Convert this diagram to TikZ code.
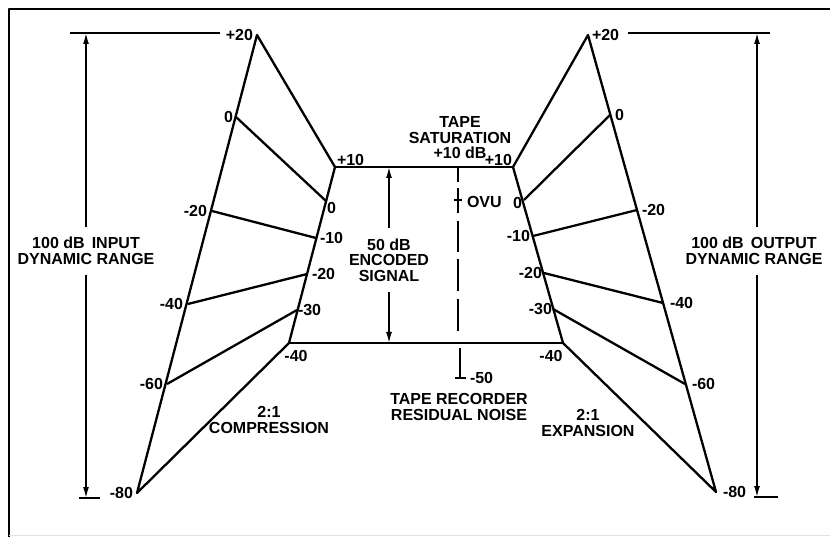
\documentclass[tikz,border=0pt]{standalone}
\usepackage{fontspec}
\setmainfont{Liberation Sans}
\usetikzlibrary{positioning, arrows.meta}

\begin{document}
\begin{tikzpicture}[x=1pt,y=-1pt,line width=1.9pt,line join=round,
    lbl/.style={font=\bfseries\fontsize{16}{15.5}\selectfont, inner sep=1pt, outer sep=0pt},
    txt/.style={lbl, align=center, inner xsep=0pt},
    fan/.style={line width=2.3pt},
    band/.style={line width=2.9pt},
    rangeline/.style={line width=1.6pt},
    rangearrow/.style={line width=1.5pt, -{Latex[length=11pt,width=6pt]}}]
  \useasboundingbox (0,0) rectangle (830,537);
  \draw[line width=2pt] (830,9) -- (9,9) -- (9,537);
  \draw[line width=0.6pt, black!12] (9,535) -- (830,535);

  % compression side
  \coordinate (L20) at (257,35);   \coordinate (L0) at (236,117);
  \coordinate (Lm20) at (212,211); \coordinate (Lm40) at (188,304);
  \coordinate (Lm60) at (167,384); \coordinate (Lm80) at (137,493);
  \coordinate (E10) at (335,167);  \coordinate (E0) at (326,201);
  \coordinate (Em10) at (316,238); \coordinate (Em20) at (307,274);
  \coordinate (Em30) at (297,310); \coordinate (Em40) at (289,343);
  % expansion side
  \coordinate (R20) at (588,35);   \coordinate (R0) at (610,115);
  \coordinate (Rm20) at (637,210); \coordinate (Rm40) at (663,303);
  \coordinate (Rm60) at (685,384); \coordinate (Rm80) at (716,492);
  \coordinate (F10) at (513,167);  \coordinate (F0) at (524,200);
  \coordinate (Fm10) at (533,236); \coordinate (Fm20) at (544,273);
  \coordinate (Fm30) at (553,309); \coordinate (Fm40) at (563,343);

  \draw[fan] (L20) -- (Lm80) -- (Em40) -- (E10) -- cycle;
  \path[fan] (L0) edge (E0) (Lm20) edge (Em10) (Lm40) edge (Em20) (Lm60) edge (Em30);
  \draw[fan] (R20) -- (Rm80) -- (Fm40) -- (F10) -- cycle;
  \path[fan] (R0) edge (F0) (Rm20) edge (Fm10) (Rm40) edge (Fm20) (Rm60) edge (Fm30);
  \draw[band] (E10) -- (F10) (Em40) -- (Fm40);

  \node[lbl, left=3pt of L20] (l20) {+20};
  \node[lbl, left=2pt of L0] (l0) {0};
  \node[lbl, left=4pt of Lm20] (lm20) {-20};
  \node[lbl, left=4pt of Lm40] (lm40) {-40};
  \node[lbl, left=3pt of Lm60] (lm60) {-60};
  \node[lbl, left=3pt of Lm80] (lm80) {-80};
  \node[lbl, above right=0pt and 1pt of E10] (e10) {+10};
  \node[lbl, below right=0pt and 0pt of E0] (e0) {0};
  \node[lbl, right=3pt of Em10] (em10) {-10};
  \node[lbl, right=4pt of Em20] (em20) {-20};
  \node[lbl, right=0pt of Em30] (em30) {-30};
  \node[lbl, below=6pt of Em40, xshift=7pt] (em40) {-40};

  \node[lbl, right=3pt of R20] (r20) {+20};
  \node[lbl, right=4pt of R0] (r0) {0};
  \node[lbl, right=4pt of Rm20] (rm20) {-20};
  \node[lbl, right=6pt of Rm40] (rm40) {-40};
  \node[lbl, right=6pt of Rm60] (rm60) {-60};
  \node[lbl, right=6pt of Rm80] (rm80) {-80};
  \node[lbl, above left=0pt and 0pt of F10] (f10) {+10};
  \node[lbl, left=1pt of F0, yshift=-3pt] (f0) {0};
  \node[lbl, left=2pt of Fm10] (fm10) {-10};
  \node[lbl, left=1pt of Fm20] (fm20) {-20};
  \node[lbl, left=0pt of Fm30] (fm30) {-30};
  \node[lbl, below=6pt of Fm40, xshift=-12pt] (fm40) {-40};

  % input range
  \coordinate (inA) at (70,33);  \coordinate (inB) at (220,33);
  \coordinate (intop) at (86,33); \coordinate (inbot) at (86,498);
  \node[txt, inner ysep=10pt] (inrange) at (86,251) {100 dB\ \,INPUT\\DYNAMIC RANGE};
  \draw[rangeline] (inA) -- (inB);
  \draw[rangearrow] (inrange) -- (intop);
  \draw[rangearrow] (inrange) -- (inbot);
  \draw[rangeline] ([xshift=-7pt]inbot) -- ([xshift=14pt]inbot);

  % output range
  \coordinate (outA) at (628,33); \coordinate (outB) at (770,33);
  \coordinate (outtop) at (757,33); \coordinate (outbot) at (757,497);
  \node[txt, inner ysep=10pt] (outrange) at (754,251) {100 dB\ \,OUTPUT\\DYNAMIC RANGE};
  \draw[rangeline] (outA) -- (outB);
  \draw[rangearrow] (outrange.north -| outtop) -- (outtop);
  \draw[rangearrow] (outrange.south -| outbot) -- (outbot);
  \draw[rangeline] ([xshift=-3pt]outbot) -- ([xshift=21pt]outbot);

  % encoded signal
  \coordinate (enctop) at (389,167); \coordinate (encbot) at (389,343);
  \node[txt, inner ysep=11pt] (enc) at (389,260) {50 dB\\ENCODED\\SIGNAL};
  \draw[rangearrow] (enc) -- (enctop);
  \draw[rangearrow] (enc) -- (encbot);

  % 0 VU reference and noise floor
  \coordinate (vtop) at (458,167); \coordinate (vbot) at (458,332);
  \coordinate (vu) at (458,200);
  \draw[line width=1.5pt, dash pattern=on 15pt off 6pt on 25pt off 8pt on 31pt off 7pt on 32pt off 8pt on 32pt off 8pt] (vtop) -- (vbot);
  \draw[line width=1.3pt] ([xshift=-4pt]vu) -- ([xshift=4pt]vu);
  \node[lbl, right=8pt of vu, yshift=-2pt] (vulbl) {OVU};

  \coordinate (nz) at (460,348); \coordinate (nzb) at (460,378);
  \draw[line width=1.7pt] (nz) -- (nzb);
  \draw[line width=1.7pt] ([xshift=-5pt]nzb) -- ([xshift=6pt]nzb);
  \node[lbl, right=9pt of nzb] (nzlbl) {-50};

  \node[txt] (sat) at (460,138) {TAPE\\SATURATION\\+10 dB};
  \node[txt] (noise) at (459,407) {TAPE RECORDER\\RESIDUAL NOISE};
  \node[txt] (comp) at (269,420) {2:1\\COMPRESSION};
  \node[txt] (exp) at (588,423) {2:1\\EXPANSION};
\end{tikzpicture}
\end{document}
